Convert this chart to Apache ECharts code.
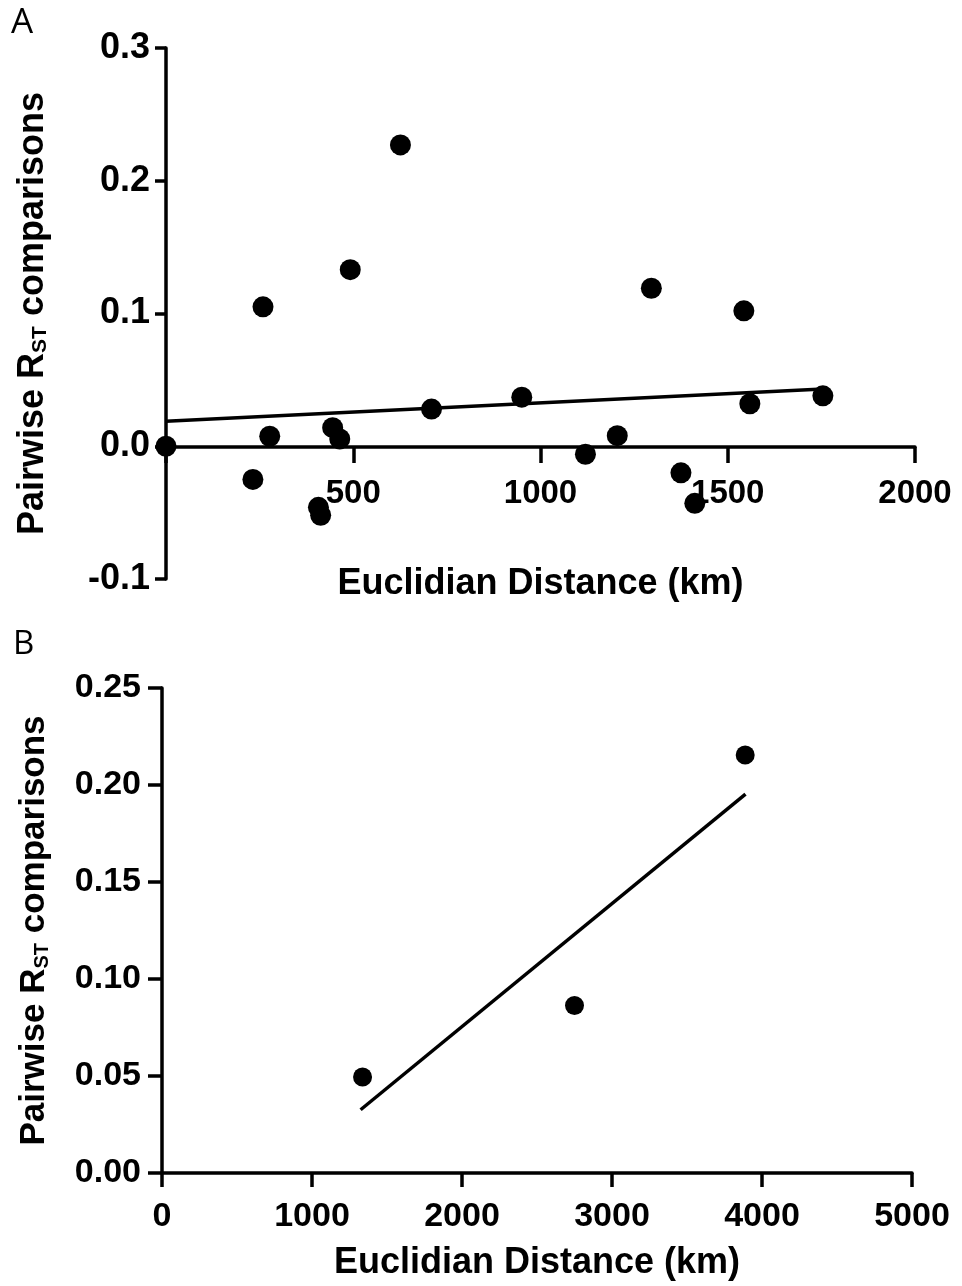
<!DOCTYPE html>
<html>
<head>
<meta charset="utf-8">
<title>Pairwise RST vs Euclidian distance</title>
<script src="https://cdn.jsdelivr.net/npm/echarts@6/dist/echarts.min.js"></script>
<style>
  html, body { margin: 0; padding: 0; background: #fff; }
  #chart { width: 962px; height: 1286px; }
</style>
</head>
<body>
<div id="chart"></div>
<script>
// panel A: pairwise comparisons within the region
var distA = [0, 259, 277, 232, 445, 464, 407, 413, 492, 626, 709, 950, 1120, 1205, 1296, 1375, 1412, 1543, 1559, 1754];
var rstA  = [0, 0.105, 0.0075, -0.025, 0.014, 0.0055, -0.046, -0.052, 0.133, 0.227, 0.028, 0.037, -0.006, 0.008, 0.119, -0.020, -0.043, 0.102, 0.032, 0.038];
var fitDistA = [0, 1754];
var fitRstA  = [0.0188, 0.0432];
var xTicksA = [500, 1000, 1500, 2000];
var yTicksA = [-0.1, 0.0, 0.1, 0.2, 0.3];

// panel B: comparisons between regions
var distB = [1337, 2750, 3888];
var rstB  = [0.0495, 0.0863, 0.2155];
var fitDistB = [1324, 3890];
var fitRstB  = [0.0326, 0.1953];
var xTicksB = [0, 1000, 2000, 3000, 4000, 5000];
var yTicksB = [0.00, 0.05, 0.10, 0.15, 0.20, 0.25];

var xTitle = 'Euclidian Distance (km)';
var yTitle = 'Pairwise R{sub|ST} comparisons';

var font = 'Liberation Sans';
var black = '#000';

function pairs(xs, ys) {
    return xs.map(function (x, i) { return [x, ys[i]]; });
}

function axisLook(tickLen) {
    return {
        axisLine: { onZero: false, lineStyle: { color: black, width: 3.5 } },
        axisTick: { length: tickLen, lineStyle: { color: black, width: 3.5 } },
        splitLine: { show: false }
    };
}

function boldText(size) {
    return { color: black, fontFamily: font, fontWeight: 'bold', fontSize: size };
}

function yName(size) {
    var st = boldText(size);
    st.rich = { sub: boldText(Math.round(size * 0.58)) };
    st.rich.sub.verticalAlign = 'bottom';
    return st;
}

var chart = echarts.init(document.getElementById('chart'));

var option = {
    backgroundColor: '#fff',
    animation: false,
    graphic: [
        { type: 'text', left: 11, top: 6, style: { text: 'A', font: '35px "Open Sans"', fill: black } },
        { type: 'text', left: 13, top: 628, style: { text: 'B', font: '33px "Open Sans"', fill: black } }
    ],
    grid: [
        { left: 166, right: 47, top: 48, bottom: 707 },
        { left: 162, right: 50, top: 688, bottom: 113 }
    ],
    xAxis: [
        Object.assign(axisLook(16), {
            type: 'value', gridIndex: 0, min: 0, max: 2000, interval: 500,
            offset: -132,   // axis drawn through y = 0
            axisLabel: Object.assign(boldText(33), {
                margin: 30,
                formatter: function (v) { return xTicksA.indexOf(v) >= 0 ? String(v) : ''; }
            }),
            name: xTitle, nameLocation: 'middle', nameGap: 119,
            nameTextStyle: boldText(36)
        }),
        Object.assign(axisLook(14), {
            type: 'value', gridIndex: 1, min: 0, max: 5000, interval: 1000,
            axisLabel: Object.assign(boldText(34), {
                margin: 27,
                formatter: function (v) { return xTicksB.indexOf(v) >= 0 ? String(v) : ''; }
            }),
            name: xTitle, nameLocation: 'middle', nameGap: 72,
            nameTextStyle: boldText(36)
        })
    ],
    yAxis: [
        Object.assign(axisLook(11), {
            type: 'value', gridIndex: 0, min: -0.1, max: 0.3, interval: 0.1,
            axisLabel: Object.assign(boldText(36), {
                margin: 16,
                formatter: function (v) { return v.toFixed(1); }
            }),
            name: yTitle, nameLocation: 'middle', nameGap: 115,
            nameTextStyle: yName(36)
        }),
        Object.assign(axisLook(14), {
            type: 'value', gridIndex: 1, min: 0, max: 0.25, interval: 0.05,
            axisLabel: Object.assign(boldText(34), {
                margin: 21,
                formatter: function (v) { return v.toFixed(2); }
            }),
            name: yTitle, nameLocation: 'middle', nameGap: 110,
            nameTextStyle: yName(35)
        })
    ],
    series: [
        {
            type: 'line', xAxisIndex: 0, yAxisIndex: 0,
            data: pairs(fitDistA, fitRstA),
            showSymbol: false, lineStyle: { color: black, width: 3.5 }, z: 3
        },
        {
            type: 'scatter', xAxisIndex: 0, yAxisIndex: 0,
            data: pairs(distA, rstA),
            symbol: 'circle', symbolSize: 21, itemStyle: { color: black, opacity: 1 }, z: 4
        },
        {
            type: 'line', xAxisIndex: 1, yAxisIndex: 1,
            data: pairs(fitDistB, fitRstB),
            showSymbol: false, lineStyle: { color: black, width: 3.5 }, z: 3
        },
        {
            type: 'scatter', xAxisIndex: 1, yAxisIndex: 1,
            data: pairs(distB, rstB),
            symbol: 'circle', symbolSize: 19, itemStyle: { color: black, opacity: 1 }, z: 4
        }
    ]
};

chart.setOption(option);
</script>
</body>
</html>
